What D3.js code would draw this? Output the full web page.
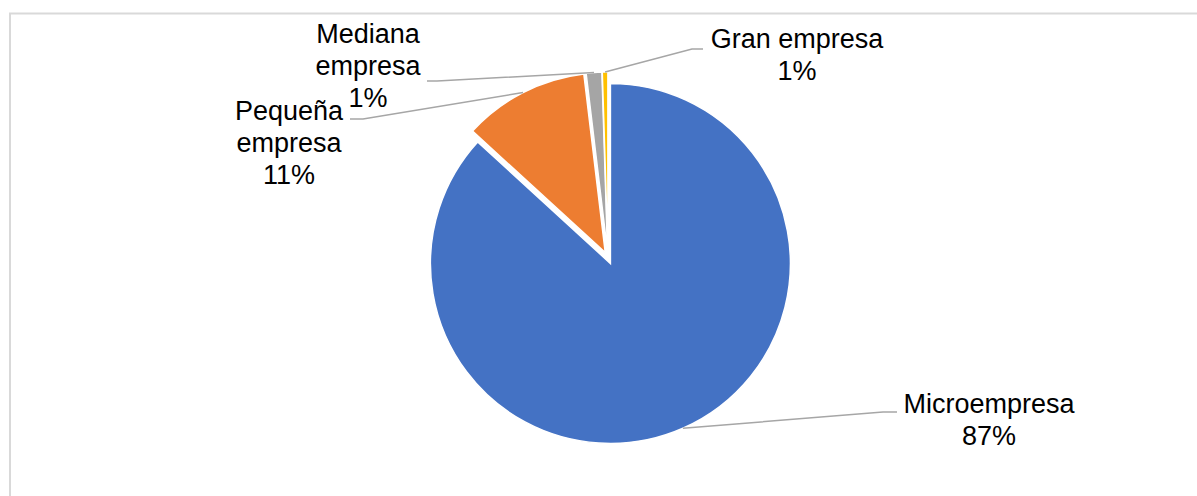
<!DOCTYPE html>
<html>
<head>
<meta charset="utf-8">
<script src="https://cdn.jsdelivr.net/npm/d3@7"></script>
<style>
  body { margin: 0; background: #fff; }
  text { font-family: "Liberation Sans", Arial, sans-serif; }
</style>
</head>
<body>
<div id="chart"></div>
<script>
"use strict";

// data
var categories = ["Microempresa", "Pequeña empresa", "Mediana empresa", "Gran empresa"];
var values = [86.8, 11.3, 1.4, 0.5];
var colors = ["#4472C4", "#ED7D31", "#A5A5A5", "#FFC000"];

// label text lines (as they wrap in the picture)
var labelLines = [["Microempresa"], ["Pequeña", "empresa"], ["Mediana", "empresa"], ["Gran empresa"]];

// layout of each label: text centre x, first baseline y, elbow of leader line
var labelLayout = [
    { x: 989, y: 413, elbow: [883, 412], end: [897, 412] },
    { x: 289, y: 120, elbow: [363, 119], end: [350, 119] },
    { x: 368, y: 43,  elbow: [437, 81],  end: [427, 81] },
    { x: 797, y: 48,  elbow: [692, 49],  end: [703, 49] }
];

var width = 1197, height = 496;
var cx = 608, cy = 258, radius = 180, explode = 6, lineH = 32;

function makeChart(){
    var svg = d3.select("#chart").append("svg")
        .attr("width", width).attr("height", height);

    // chart area border
    svg.append("rect")
        .attr("x", 10).attr("y", 13.5)
        .attr("width", 1210).attr("height", 520)
        .attr("fill", "#fff")
        .attr("stroke", "#d9d9d9").attr("stroke-width", 2);

    var data = categories.map(function(c, i){ return { name: c, value: values[i], idx: i }; });
    var total = d3.sum(values);

    var pie = d3.pie().sort(null).value(function(d){ return d.value; })
        .startAngle(0).endAngle(2 * Math.PI);
    var arcs = pie(data);

    var arc = d3.arc().innerRadius(0).outerRadius(radius);

    function offset(a, dist){
        var mid = (a.startAngle + a.endAngle) / 2;
        return [Math.sin(mid) * dist, -Math.cos(mid) * dist];
    }

    var g = svg.append("g").attr("transform", "translate(" + cx + "," + cy + ")");

    g.selectAll("path.slice").data(arcs).enter().append("path")
        .attr("class", "slice")
        .attr("d", arc)
        .attr("transform", function(a){ var o = offset(a, explode); return "translate(" + o[0] + "," + o[1] + ")"; })
        .attr("fill", function(a){ return colors[a.data.idx]; })
        .attr("stroke", "#fff").attr("stroke-width", 1.5);

    // leader lines
    g.selectAll("polyline.leader").data(arcs).enter().append("polyline")
        .attr("class", "leader")
        .attr("points", function(a){
            var p = offset(a, radius + explode);
            var L = labelLayout[a.data.idx];
            return [p, [L.elbow[0] - cx, L.elbow[1] - cy], [L.end[0] - cx, L.end[1] - cy]]
                .map(function(q){ return q.join(","); }).join(" ");
        })
        .attr("fill", "none").attr("stroke", "#a6a6a6").attr("stroke-width", 1.5);

    // labels
    var labels = svg.selectAll("text.lbl").data(arcs).enter().append("text")
        .attr("class", "lbl")
        .attr("text-anchor", "middle")
        .attr("font-size", "27px")
        .attr("fill", "#000");

    labels.each(function(a){
        var L = labelLayout[a.data.idx];
        var lines = labelLines[a.data.idx].concat([Math.round(a.data.value / total * 100) + "%"]);
        var t = d3.select(this);
        lines.forEach(function(s, k){
            t.append("tspan").attr("x", L.x).attr("y", L.y + k * lineH).text(s);
        });
    });
}

makeChart();
</script>
</body>
</html>
